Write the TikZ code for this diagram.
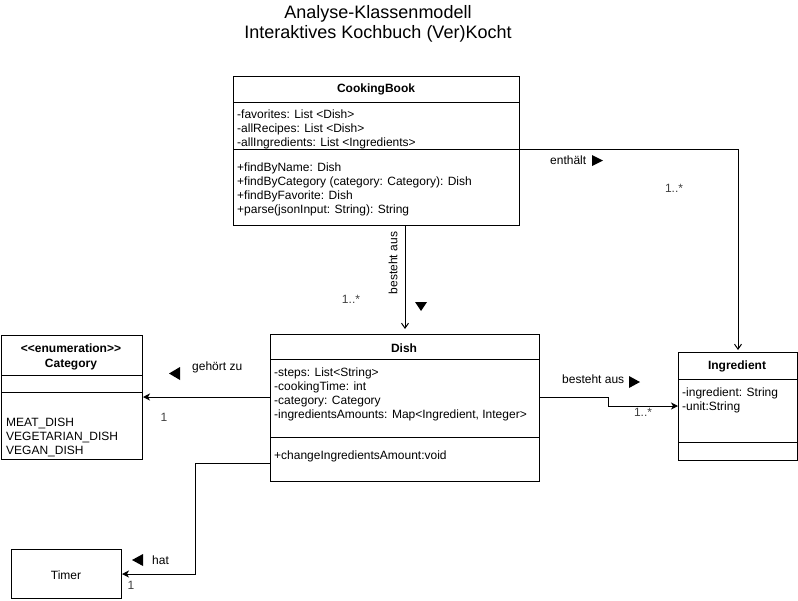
\documentclass[tikz,border=0pt]{standalone}
\usepackage{fontspec}
\setmainfont{Liberation Sans}
\usetikzlibrary{arrows.meta}
\begin{document}
\begin{tikzpicture}[x=1pt,y=-1pt,
  box/.style={draw=black,line width=1pt,anchor=north west,inner sep=0pt,fill=white},
  divline/.style={draw=black,line width=1pt},
  attr/.style={font=\fontsize{12}{14}\selectfont,align=left,anchor=north west,inner sep=0pt,text=black},
  hdr/.style={font=\fontsize{12}{15}\selectfont\bfseries,inner sep=0pt,text=black,align=center},
  lbl/.style={font=\fontsize{12}{14}\selectfont,inner sep=0pt,text=black,anchor=west},
  mult/.style={font=\fontsize{12}{14}\selectfont,inner sep=0pt,text=black!75},
  ttl/.style={font=\fontsize{18}{20}\selectfont,inner sep=0pt,text=black},
  tri/.style={fill=black,draw=none},
  conn/.style={draw=black,line width=1pt},
  openhead/.style={conn,-{Straight Barb[length=5pt,width=7pt,line width=1pt]}},
  fullhead/.style={conn,-{Stealth[length=7pt,width=7pt,inset=2pt]}}
]
\useasboundingbox (0,0) rectangle (798,600);

% title
\node[ttl] (title1) at (378,14) {Analyse-Klassenmodell};
\node[ttl] (title2) at (378,34) {Interaktives Kochbuch (Ver)Kocht};

% CookingBook
\node[box,minimum width=286pt,minimum height=149pt] (cb) at (233,76) {};
\coordinate (cbh) at (0,102);
\coordinate (cbd) at (0,149);
\draw[divline] (cb.west |- cbh) -- (cb.east |- cbh);
\draw[divline] (cb.west |- cbd) -- (cb.east |- cbd);
\node[hdr] (cbname) at (376,89) {CookingBook};
\node[attr] (cbattr) at (237,109.5) {-favorites: List <Dish>\\-allRecipes: List <Dish>\\-allIngredients: List <Ingredients>};
\node[attr] (cbmeth) at (237,162.5) {+findByName: Dish\\+findByCategory (category: Category): Dish\\+findByFavorite: Dish\\+parse(jsonInput: String): String};

% Dish
\node[box,minimum width=269pt,minimum height=147pt] (dish) at (270,334) {};
\coordinate (dh) at (0,359);
\coordinate (dd) at (0,437);
\draw[divline] (dish.west |- dh) -- (dish.east |- dh);
\draw[divline] (dish.west |- dd) -- (dish.east |- dd);
\node[hdr] (dishname) at (404,348) {Dish};
\node[attr] (dishattr) at (274,367.5) {-steps: List<String>\\-cookingTime: int\\-category: Category\\-ingredientsAmounts: Map<Ingredient, Integer>};
\node[attr] (dishmeth) at (274,450.5) {+changeIngredientsAmount:void};

% Category
\node[box,minimum width=141pt,minimum height=124pt] (cat) at (1,335) {};
\coordinate (ch) at (0,375);
\coordinate (cd) at (0,392);
\draw[divline] (cat.west |- ch) -- (cat.east |- ch);
\draw[divline] (cat.west |- cd) -- (cat.east |- cd);
\node[hdr] (catname) at (71,356.5) {<\kern0pt<enumeration>\kern0pt>\\Category};
\node[attr] (catvals) at (6,417.5) {MEAT\_DISH\\VEGETARIAN\_DISH\\VEGAN\_DISH};

% Ingredient
\node[box,minimum width=119pt,minimum height=108pt] (ing) at (678,352) {};
\coordinate (ih) at (0,379);
\coordinate (id) at (0,442);
\draw[divline] (ing.west |- ih) -- (ing.east |- ih);
\draw[divline] (ing.west |- id) -- (ing.east |- id);
\node[hdr] (ingname) at (737,366) {Ingredient};
\node[attr] (ingattr) at (682,387.5) {-ingredient: String\\-unit:String};

% Timer
\node[box,minimum width=110pt,minimum height=49pt] (timer) at (11,549) {};
\node[font=\fontsize{12}{14}\selectfont,inner sep=0pt] (timername) at (66,575) {Timer};

% connectors
\coordinate (ycat) at (0,397);
\coordinate (bend1) at (608,406);
\coordinate (yhat) at (0,463);
\coordinate (hatbend) at (195,0);

\draw[openhead] (cb.south -| dish.north) -- ([yshift=5pt]dish.north);
\draw[openhead] (cb.east |- cbd) -| ([yshift=2pt]ing.north);
\draw[fullhead] (dish.west |- ycat) -- (cat.east |- ycat);
\draw[fullhead] (dish.east |- ycat) -| (bend1) -- (ing.west |- bend1);
\draw[fullhead] (dish.west |- yhat) -| (hatbend |- timer.east) -- (timer.east);

% labels
\node[font=\fontsize{12}{14}\selectfont,inner sep=0pt,rotate=90] (lbl1) at (393,263) {besteht aus};
\node[mult] (m1) at (351,299) {1..*};
\fill[tri] (415,302) -- (427,302) -- (421,311) -- cycle;

\node[lbl] (lbl2) at (550,160) {enthält};
\fill[tri] (592,155) -- (603,160.5) -- (592,166) -- cycle;
\node[mult] (m2) at (674,188) {1..*};

\node[lbl] (lbl3) at (562,379) {besteht aus};
\fill[tri] (629,376) -- (640,382) -- (629,388) -- cycle;
\node[mult] (m3) at (643,412) {1..*};

\node[lbl] (lbl4) at (192,367) {gehört zu};
\fill[tri] (180,367) -- (169,373.5) -- (180,380) -- cycle;
\node[mult] (m4) at (164,417) {1};

\node[lbl] (lbl5) at (152,560) {hat};
\fill[tri] (143,554) -- (132,560) -- (143,566) -- cycle;
\node[mult] (m5) at (131,585) {1};
\end{tikzpicture}
\end{document}
